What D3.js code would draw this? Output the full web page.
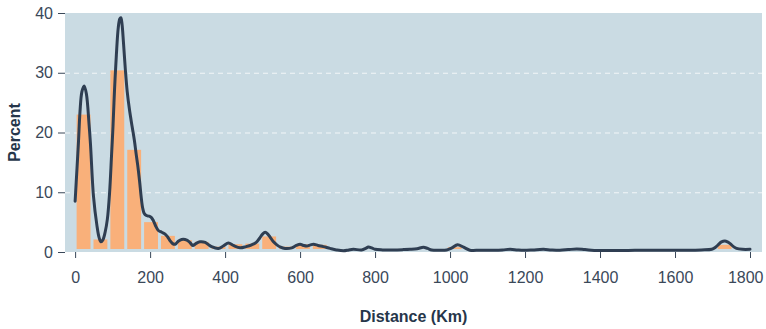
<!DOCTYPE html>
<html>
<head>
<meta charset="utf-8">
<script src="https://cdn.jsdelivr.net/npm/d3@7"></script>
<style>
  html, body { margin: 0; padding: 0; background: #ffffff; }
  svg { display: block; font-family: "Liberation Sans", Arial, sans-serif; }
</style>
</head>
<body>
<svg id="chart" width="766" height="329"></svg>
<script>
// Histogram of distances: bins of 45 km starting at 0, value = percent of trips
const binWidth = 45;
const binPercent = [
  23.0, 2.1, 30.4, 17.1, 5.0, 2.7, 2.0, 1.7, 0.9, 1.3,
  1.4, 2.6, 0.9, 1.3, 1.2, 0.5, 0.4, 0.5, 0.3, 0.3,
  0.4, 0.3, 0.8, 0.2, 0.3, 0.2, 0.3, 0.2, 0.3, 0.3,
  0.3, 0.2, 0.2, 0.2, 0.2, 0.2, 0.2, 0.3, 1.2, 0.2
];

// Smoothed density curve, expressed on the same percent scale
const densityKm = [
  0, 5, 9, 13, 18, 24, 30, 37, 41, 49, 58, 64, 69, 74, 80, 86, 92, 97, 101, 105,
  110, 115, 119, 122, 125, 129, 134, 139, 145, 152, 158, 163, 167, 172, 176, 180, 184, 190, 197, 203,
  209, 216, 222, 231, 240, 247, 253, 260, 267, 275, 284, 298, 306, 314, 322, 333, 347, 356, 364, 382,
  395, 409, 422, 440, 456, 471, 483, 492, 500, 507, 514, 520, 529, 538, 548, 560, 578, 590, 600, 609,
  618, 628, 636, 648, 662, 680, 697, 716, 730, 742, 764, 775, 782, 791, 800, 820, 849, 875, 893, 912,
  929, 940, 951, 970, 991, 1005, 1020, 1036, 1053, 1080, 1116, 1140, 1160, 1180, 1196, 1220, 1249, 1270, 1293, 1315,
  1338, 1360, 1395, 1430, 1475, 1510, 1547, 1590, 1635, 1670, 1698, 1708, 1715, 1724, 1733, 1740, 1747, 1756, 1764, 1780,
  1800
];
const densityPct = [
  8.5, 14.0, 18.5, 23.5, 26.8, 27.8, 26.5, 21.5, 18.0, 9.3, 4.5, 2.4, 1.7, 2.0, 3.3, 5.5, 10.0, 16.0, 21.0, 27.0,
  33.0, 37.5, 39.0, 39.2, 38.2, 35.0, 30.5, 26.8, 23.8, 21.0, 18.7, 16.3, 14.5, 11.8, 9.3, 7.4, 6.5, 6.1, 6.0, 5.8,
  5.2, 4.2, 3.6, 3.3, 3.0, 2.5, 1.9, 1.4, 1.3, 1.8, 2.1, 2.0, 1.6, 1.1, 1.4, 1.7, 1.6, 1.2, 0.9, 0.6,
  1.0, 1.5, 1.1, 0.7, 0.9, 1.2, 1.6, 2.3, 3.0, 3.3, 3.0, 2.5, 1.7, 1.2, 0.8, 0.6, 0.7, 1.1, 1.3, 1.1,
  1.0, 1.2, 1.3, 1.1, 0.9, 0.6, 0.35, 0.2, 0.35, 0.45, 0.35, 0.6, 0.85, 0.7, 0.45, 0.35, 0.35, 0.4, 0.45, 0.55,
  0.8, 0.6, 0.35, 0.3, 0.35, 0.7, 1.2, 0.8, 0.3, 0.3, 0.3, 0.35, 0.45, 0.35, 0.3, 0.35, 0.45, 0.35, 0.3, 0.4,
  0.5, 0.4, 0.25, 0.25, 0.25, 0.3, 0.3, 0.3, 0.3, 0.35, 0.45, 0.8, 1.2, 1.7, 1.85, 1.7, 1.4, 0.9, 0.6, 0.45,
  0.45
];

const xTicks = [0, 200, 400, 600, 800, 1000, 1200, 1400, 1600, 1800];
const yTicks = [0, 10, 20, 30, 40];
const yGrid = [10, 20, 30];
const xTitle = "Distance (Km)";
const yTitle = "Percent";

const colors = {
  panel: "#cadbe3",
  bar: "#f9b07a",
  line: "#2f3e52",
  text: "#3a4859",
  title: "#26364a",
  grid: "#f2f6f8"
};

const width = 766;
const panel = { left: 65, right: 762, top: 13, bottom: 252 };

const svg = d3.select("#chart");

const x = d3.scaleLinear().domain([-27, 1832]).range([panel.left, panel.right]);
const y = d3.scaleLinear().domain([0, 40]).range([panel.bottom, panel.top]);

// panel background
svg.append("rect")
  .attr("x", panel.left).attr("y", panel.top)
  .attr("width", panel.right - panel.left)
  .attr("height", panel.bottom - panel.top)
  .attr("fill", colors.panel);

// dashed horizontal grid
svg.append("g").selectAll("line").data(yGrid).join("line")
  .attr("x1", panel.left).attr("x2", panel.right)
  .attr("y1", d => y(d) + 0.5).attr("y2", d => y(d) + 0.5)
  .attr("stroke", colors.grid)
  .attr("stroke-width", 1)
  .attr("stroke-dasharray", "5,4");

// histogram bars
const bins = binPercent.map((v, i) => ({ x0: i * binWidth, x1: (i + 1) * binWidth, v }));
const inset = 1.5;
svg.append("g").selectAll("rect").data(bins).join("rect")
  .attr("x", d => x(d.x0) + inset)
  .attr("width", d => Math.max(0, x(d.x1) - x(d.x0) - 2 * inset))
  .attr("y", d => y(d.v))
  .attr("height", d => Math.max(0, y(0) - 3 - y(d.v)))
  .attr("fill", colors.bar);

// density curve
const pts = densityKm.map((k, i) => [k, densityPct[i]]);
const line = d3.line()
  .x(d => x(d[0]))
  .y(d => y(d[1]))
  .curve(d3.curveCatmullRom.alpha(0.5));
svg.append("path")
  .datum(pts)
  .attr("d", line)
  .attr("fill", "none")
  .attr("stroke", colors.line)
  .attr("stroke-width", 3)
  .attr("stroke-linejoin", "round")
  .attr("stroke-linecap", "round");

// x axis
const xAxis = svg.append("g")
  .attr("transform", `translate(0,${panel.bottom})`)
  .call(d3.axisBottom(x).tickValues(xTicks).tickSize(6).tickPadding(14).tickFormat(d3.format("d")));
xAxis.select(".domain").remove();
xAxis.selectAll(".tick line").attr("stroke", colors.text).attr("stroke-width", 1);
xAxis.selectAll(".tick text")
  .attr("fill", colors.text)
  .style("font-size", "16px")
  .style("font-family", "'Liberation Sans', Arial, sans-serif");

// keep the last tick label inside the canvas
xAxis.selectAll(".tick").filter(d => d === xTicks[xTicks.length - 1]).select("text")
  .attr("text-anchor", "end")
  .attr("x", function(d) { return (width - 3) - x(d); });

// y axis
const yAxis = svg.append("g")
  .attr("transform", `translate(${panel.left},0)`)
  .call(d3.axisLeft(y).tickValues(yTicks).tickSize(7).tickPadding(5).tickFormat(d3.format("d")));
yAxis.select(".domain").remove();
yAxis.selectAll(".tick line").attr("stroke", colors.text).attr("stroke-width", 1);
yAxis.selectAll(".tick text")
  .attr("fill", colors.text)
  .style("font-size", "16px")
  .style("font-family", "'Liberation Sans', Arial, sans-serif");

// axis titles
svg.append("text")
  .attr("x", (panel.left + panel.right) / 2)
  .attr("y", 322)
  .attr("text-anchor", "middle")
  .attr("fill", colors.title)
  .style("font-size", "16px")
  .style("font-weight", "bold")
  .text(xTitle);

svg.append("text")
  .attr("transform", `translate(20,${(panel.top + panel.bottom) / 2}) rotate(-90)`)
  .attr("text-anchor", "middle")
  .attr("fill", colors.title)
  .style("font-size", "16px")
  .style("font-weight", "bold")
  .text(yTitle);
</script>
</body>
</html>
